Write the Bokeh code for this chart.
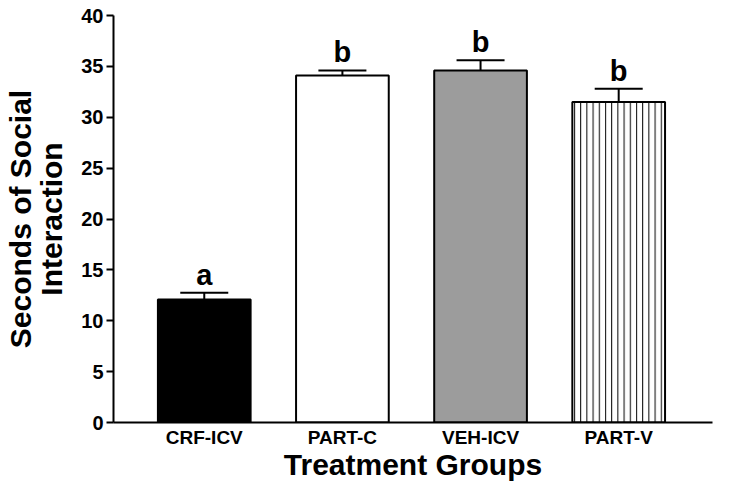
from bokeh.plotting import figure
from bokeh.models import Range1d, FixedTicker, ColumnDataSource, Whisker, TeeHead
from bokeh.core.properties import value
from bokeh.embed import file_html
from bokeh.resources import INLINE

groups = ["CRF-ICV", "PART-C", "VEH-ICV", "PART-V"]
means = [12.1, 34.1, 34.6, 31.5]
sems = [0.65, 0.5, 1.0, 1.3]
letters = ["a", "b", "b", "b"]
fills = ["#000000", "#ffffff", "#9c9c9c", "#ffffff"]
hatches = [" ", " ", " ", "vertical_line"]
y_ticks = [0, 5, 10, 15, 20, 25, 30, 35, 40]

FONT = "Liberation Sans"
xs = list(range(1, len(groups) + 1))
src = ColumnDataSource(dict(
    x=xs, top=means, fill=fills, hatch=hatches,
    upper=[m + s for m, s in zip(means, sems)], letter=letters,
))

p = figure(width=713, height=483, output_backend="svg", toolbar_location=None,
           x_range=Range1d(0.343, 4.679), y_range=Range1d(0, 40),
           min_border_left=113, min_border_right=1, min_border_top=15, min_border_bottom=60)
p.outline_line_color = None
p.xgrid.visible = False
p.ygrid.visible = False

p.vbar(x="x", top="top", width=0.671, bottom=0, source=src, fill_color="fill",
       line_color="black", line_width=2, hatch_pattern="hatch", hatch_color="black",
       hatch_scale=6.2, hatch_weight=1)

w = Whisker(base="x", lower="top", upper="upper", source=src, line_color="black", line_width=2,
            upper_head=TeeHead(size=48, line_width=2, line_color="black"), lower_head=None)
p.add_layout(w)

p.text(x="x", y="upper", text="letter", source=src, text_align="center", text_baseline="bottom",
       y_offset=-2, text_font=value(FONT), text_font_style="bold", text_font_size="29px",
       text_color="black")

p.yaxis.ticker = FixedTicker(ticks=y_ticks)
p.yaxis.minor_tick_line_color = None
p.yaxis.major_tick_in = 0
p.yaxis.major_tick_out = 7
p.yaxis.major_tick_line_width = 2
p.yaxis.axis_line_width = 2
p.yaxis.major_label_standoff = 3
p.yaxis.major_label_text_font = FONT
p.yaxis.major_label_text_font_style = "bold"
p.yaxis.major_label_text_font_size = "20px"
p.yaxis.major_label_text_color = "black"
p.yaxis.axis_label = "Seconds of Social\nInteraction"
p.yaxis.axis_label_text_font = FONT
p.yaxis.axis_label_text_font_style = "bold"
p.yaxis.axis_label_text_font_size = "30px"
p.yaxis.axis_label_text_line_height = 0.95
p.yaxis.axis_label_text_color = "black"
p.yaxis.axis_label_standoff = 10

p.xaxis.ticker = FixedTicker(ticks=xs)
p.xaxis.major_label_overrides = {x: g for x, g in zip(xs, groups)}
p.xaxis.minor_tick_line_color = None
p.xaxis.major_tick_line_color = None
p.xaxis.major_tick_out = 0
p.xaxis.major_tick_in = 0
p.xaxis.axis_line_width = 2
p.xaxis.major_label_standoff = 4
p.xaxis.major_label_text_font = FONT
p.xaxis.major_label_text_font_style = "bold"
p.xaxis.major_label_text_font_size = "19px"
p.xaxis.major_label_text_line_height = 0.9
p.xaxis.major_label_text_color = "black"
p.xaxis.axis_label = "Treatment Groups"
p.xaxis.axis_label_text_font = FONT
p.xaxis.axis_label_text_font_style = "bold"
p.xaxis.axis_label_text_font_size = "30px"
p.xaxis.axis_label_text_line_height = 0.9
p.xaxis.axis_label_text_color = "black"
p.xaxis.axis_label_standoff = -3

open("out.html", "w").write(file_html(p, INLINE))
